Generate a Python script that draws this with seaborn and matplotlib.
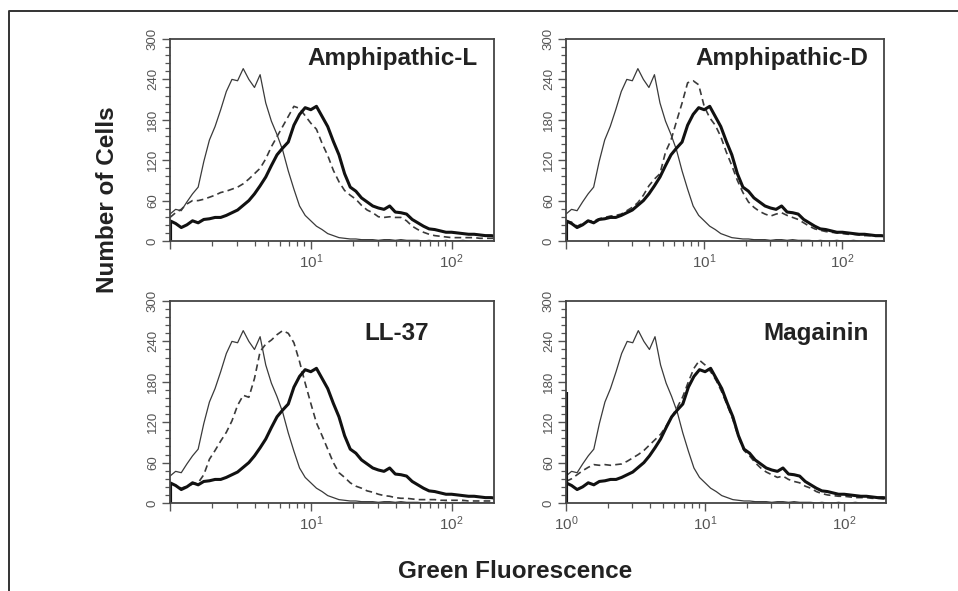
import numpy as np
import pandas as pd
import matplotlib
matplotlib.use("Agg")
import matplotlib.pyplot as plt
from matplotlib.lines import Line2D
from matplotlib.ticker import FixedLocator, MultipleLocator, NullFormatter
import seaborn as sns

# ------------------------------------------------------------
# DATA
# ------------------------------------------------------------
# channel positions as log10(fluorescence)
log_fluor = [0.00, 0.04, 0.08, 0.12, 0.16, 0.20, 0.24, 0.28, 0.32, 0.36,
             0.40, 0.44, 0.48, 0.52, 0.56, 0.60, 0.64, 0.68, 0.72, 0.76,
             0.80, 0.84, 0.88, 0.92, 0.96, 1.00, 1.04, 1.08, 1.12, 1.16,
             1.20, 1.24, 1.28, 1.32, 1.36, 1.40, 1.44, 1.48, 1.52, 1.56,
             1.60, 1.64, 1.68, 1.72, 1.76, 1.80, 1.84, 1.88, 1.92, 1.96,
             2.00, 2.04, 2.08, 2.12, 2.16, 2.20, 2.24, 2.28, 2.32]

# unstained control (thin line), same in every panel
control = [40, 47, 45, 58, 70, 80, 118, 150, 170, 195,
           222, 240, 238, 256, 240, 228, 247, 205, 178, 158,
           135, 104, 77, 52, 38, 30, 22, 17, 11, 8,
           5, 4, 3, 3, 2, 2, 2, 1, 2, 2,
           1, 2, 1, 1, 1, 0, 1, 0, 0, 1,
           0, 0, 1, 0, 0, 0, 0, 0, 0]

# stained cells, no peptide (thick line), same in every panel
untreated = [30, 26, 20, 24, 30, 27, 32, 33, 35, 35,
             38, 42, 46, 53, 60, 70, 82, 95, 112, 128,
             138, 147, 172, 188, 198, 195, 200, 185, 170, 148,
             128, 100, 80, 74, 64, 58, 52, 49, 47, 52,
             43, 42, 40, 32, 27, 22, 18, 17, 15, 13,
             13, 12, 11, 10, 10, 9, 8, 8, 7]

# peptide treated (dashed line), one per panel
amph_l = [35, 42, 47, 55, 60, 60, 62, 65, 68, 72,
          74, 77, 80, 85, 92, 100, 108, 122, 140, 155,
          170, 185, 200, 197, 186, 175, 166, 145, 127, 105,
          88, 75, 68, 62, 53, 46, 42, 36, 35, 36,
          35, 35, 30, 22, 17, 13, 10, 8, 7, 6,
          5, 5, 5, 5, 5, 4, 4, 4, 4]

amph_d = [30, 28, 22, 26, 30, 30, 33, 35, 37, 38,
          40, 45, 50, 57, 68, 82, 92, 100, 132, 150,
          178, 205, 235, 238, 232, 200, 183, 172, 155, 132,
          112, 90, 72, 58, 50, 44, 40, 37, 40, 42,
          38, 35, 32, 27, 22, 18, 16, 14, 13, 12,
          11, 10, 10, 9, 8, 8, 7, 7, 6]

ll37 = [30, 26, 22, 25, 28, 30, 42, 65, 78, 92,
        105, 122, 145, 160, 157, 185, 225, 236, 242, 250,
        256, 252, 238, 210, 178, 148, 119, 100, 80, 60,
        45, 38, 30, 25, 22, 18, 16, 13, 11, 10,
        8, 7, 7, 6, 5, 5, 5, 5, 4, 4,
        4, 4, 4, 3, 3, 3, 3, 3, 3]

magainin = [32, 36, 42, 48, 53, 57, 56, 57, 56, 57,
            58, 62, 67, 72, 78, 86, 94, 102, 114, 128,
            142, 158, 180, 200, 212, 205, 195, 182, 165, 145,
            124, 98, 78, 70, 60, 52, 46, 42, 38, 40,
            35, 32, 30, 25, 22, 17, 14, 12, 11, 10,
            10, 9, 8, 8, 8, 7, 7, 6, 6]

panel_names = ["Amphipathic-L", "Amphipathic-D", "LL-37", "Magainin"]
treated = [amph_l, amph_d, ll37, magainin]
first_channel = [30, 30, 30, 165]   # events piled in the lowest channel
y_ticks = [0, 60, 120, 180, 240, 300]

# ------------------------------------------------------------
# FIGURE
# ------------------------------------------------------------
sns.set_style("ticks")
plt.rcParams['font.family'] = ['Liberation Sans', 'DejaVu Sans']
plt.rcParams['mathtext.fontset'] = 'custom'
plt.rcParams['mathtext.rm'] = 'Liberation Sans'
plt.rcParams['mathtext.it'] = 'Liberation Sans'

fig = plt.figure(figsize=(9.58, 5.91), dpi=100)

W, H = 958.0, 591.0
boxes = [(170, 39, 494, 241), (566, 39, 884, 241),
         (170, 301, 494, 503), (566, 301, 886, 503)]
# label anchor (right edge, vertical centre) in axes fraction
label_pos = [(0.95, 0.905), (0.95, 0.905), (0.80, 0.84), (0.945, 0.84)]

x = 10 ** np.array(log_fluor)
for i, (l, t, r, b) in enumerate(boxes):
    ax = fig.add_axes([l / W, 1 - b / H, (r - l) / W, (b - t) / H])
    df = pd.DataFrame({"fluor": x, "control": control,
                       "untreated": untreated, "treated": treated[i]})
    sns.lineplot(data=df, x="fluor", y="control", ax=ax, estimator=None,
                 color="#3a3a3a", lw=0.9)
    sns.lineplot(data=df, x="fluor", y="treated", ax=ax, estimator=None,
                 color="#3a3a3a", lw=1.2, linestyle=(0, (4, 2.5)))
    sns.lineplot(data=df, x="fluor", y="untreated", ax=ax, estimator=None,
                 color="#111111", lw=2.2)
    ax.vlines(1.0, 0, first_channel[i], color="#111111", lw=3)

    ax.set_xscale("log")
    ax.set_xlim(1, 200)
    ax.set_ylim(0, 300)
    ax.set_xlabel("")
    ax.set_ylabel("")

    ax.xaxis.set_major_locator(FixedLocator([1, 10, 100]))
    if i == 3:
        ax.set_xticklabels([r"$10^0$", r"$10^1$", r"$10^2$"])
    else:
        ax.set_xticklabels(["", r"$10^1$", r"$10^2$"])
    ax.xaxis.set_minor_locator(FixedLocator(
        [2, 3, 4, 5, 6, 7, 8, 9, 20, 30, 40, 50, 60, 70, 80, 90]))
    ax.xaxis.set_minor_formatter(NullFormatter())
    ax.set_yticks(y_ticks)
    ax.set_yticklabels([str(v) for v in y_ticks], rotation=90, va="center")
    ax.yaxis.set_minor_locator(MultipleLocator(12))

    ax.tick_params(axis="x", which="major", length=6, width=1.0,
                   color="#555555", labelcolor="#555555", labelsize=11, pad=2)
    ax.tick_params(axis="y", which="major", length=6, width=1.0,
                   color="#555555", labelcolor="#555555", labelsize=9.5, pad=2)
    ax.tick_params(axis="both", which="minor", length=3.5, width=0.9,
                   color="#555555")
    for sp in ax.spines.values():
        sp.set_visible(True)
        sp.set_color("#444444")
        sp.set_linewidth(1.3)

    lx, ly = label_pos[i]
    ax.text(lx, ly, panel_names[i], transform=ax.transAxes,
            ha="right", va="center", fontsize=17.5, fontweight="bold",
            color="#222222")

fig.text(107 / W, 1 - 200 / H, "Number of Cells", rotation=90,
         ha="center", va="center", fontsize=17.5, fontweight="bold",
         color="#222222")
fig.text(515 / W, 1 - 571 / H, "Green Fluorescence", ha="center",
         va="center", fontsize=17.5, fontweight="bold", color="#222222")

# outer frame (top and left edges visible in the reference)
fig.add_artist(Line2D([9 / W, 9 / W, 1.0], [0.0, 1 - 11 / H, 1 - 11 / H],
                      transform=fig.transFigure, color="#333333", lw=1.4))

fig.savefig("out.png", dpi=100)
